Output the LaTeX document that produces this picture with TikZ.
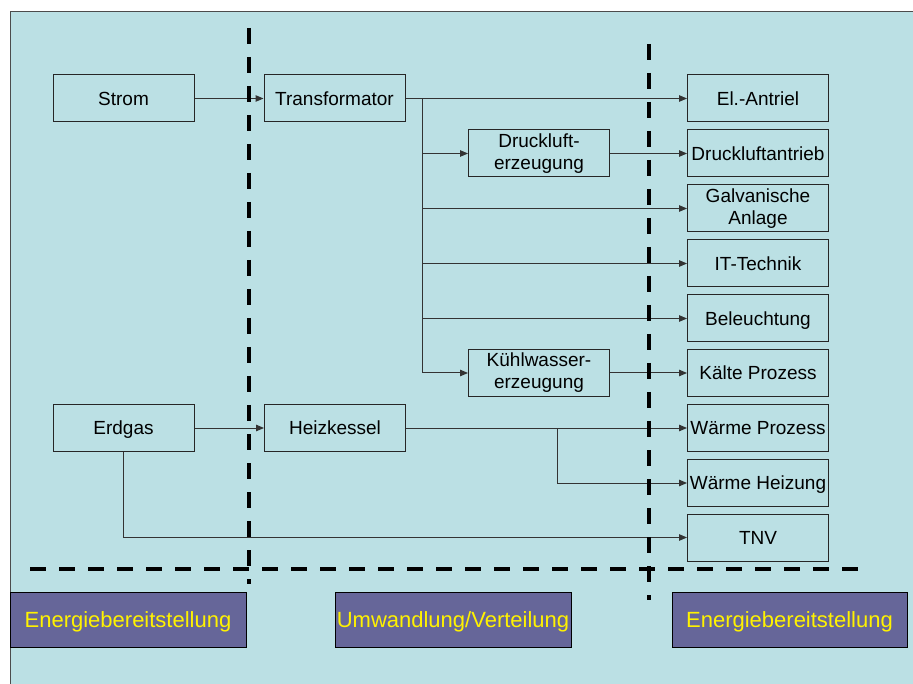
\documentclass[tikz,border=0pt]{standalone}
\usepackage{fontspec}
\setmainfont{Liberation Sans}
\usetikzlibrary{arrows.meta}
\definecolor{bg}{RGB}{187,224,228}
\definecolor{lab}{RGB}{102,102,153}
\begin{document}
\begin{tikzpicture}[x=1pt,y=-1pt,
 box/.style={draw=black!85, line width=1pt, minimum width=141pt, minimum height=47pt, inner sep=0pt, align=center, font=\fontsize{19}{22}\selectfont},
 one/.style={text height=13.6pt, text depth=0pt},
 lbl/.style={draw=black, line width=1pt, fill=lab, text=yellow, minimum height=55pt, inner sep=0pt, text height=15.8pt, text depth=0pt, font=\fontsize{22}{26}\selectfont},
 conn/.style={draw=black!80, line width=1pt},
 arr/.style={conn, -{Triangle[length=8pt,width=6.5pt]}},
 sep/.style={line width=4pt, dash pattern=on 16pt off 13pt}]
\useasboundingbox (0,0) rectangle (913,684);
\fill[bg] (10,12) rectangle (913,684);
\draw[black!70, line width=1pt] (10,684) -- (10,12) -- (913,12);

\node[box,one] (strom) at (123.5,98.5) {Strom};
\node[box,one] (trafo) at (334.5,98.5) {Transformator};
\node[box,one] (erdgas) at (123.5,428) {Erdgas};
\node[box,one] (heiz) at (335,428) {Heizkessel};
\node[box] (druckerz) at (539,153.5) {Druckluft-\\erzeugung};
\node[box] (kuehl) at (539,373) {Kühlwasser-\\erzeugung};

\node[box,one] (el) at (758,98.5) {El.-Antriel};
\node[box,one] (dl) at (758,153.5) {Druckluftantrieb};
\node[box] (galv) at (758,208.5) {Galvanische\\Anlage};
\node[box,one] (it) at (758,263.5) {IT-Technik};
\node[box,one] (bel) at (758,318.5) {Beleuchtung};
\node[box,one] (kaelte) at (758,373) {Kälte Prozess};
\node[box,one] (wp) at (758,428) {Wärme Prozess};
\node[box,one] (wh) at (758,483) {Wärme Heizung};
\node[box,one] (tnv) at (758,537.5) {TNV};

\draw[arr] (strom) -- (trafo);
\draw[arr] (trafo) -- (el);
\coordinate (bus) at (422,98.5);
\coordinate (busend) at (422,373);
\draw[conn] (bus) -- (busend);
\draw[arr] (bus |- druckerz) -- (druckerz);
\draw[arr] (bus |- galv) -- (galv);
\draw[arr] (bus |- it) -- (it);
\draw[arr] (bus |- bel) -- (bel);
\draw[arr] (busend) -- (kuehl);
\draw[arr] (druckerz) -- (dl);
\draw[arr] (kuehl) -- (kaelte);
\draw[arr] (erdgas) -- (heiz);
\draw[arr] (heiz) -- (wp);
\coordinate (hj) at (557,428);
\draw[arr] (hj) |- (wh);
\draw[arr] (erdgas.south) |- (tnv);

\draw[sep] (248.5,28) -- (248.5,584);
\draw[sep] (649,44) -- (649,600);
\draw[sep] (30,568.5) -- (858,568.5);

\node[lbl, minimum width=236pt] (lb1) at (128,619.5) {Energiebereitstellung};
\node[lbl, minimum width=236pt] (lb2) at (453,619.5) {Umwandlung/Verteilung};
\node[lbl, minimum width=235pt] (lb3) at (789.5,620) {Energiebereitstellung};
\end{tikzpicture}
\end{document}
